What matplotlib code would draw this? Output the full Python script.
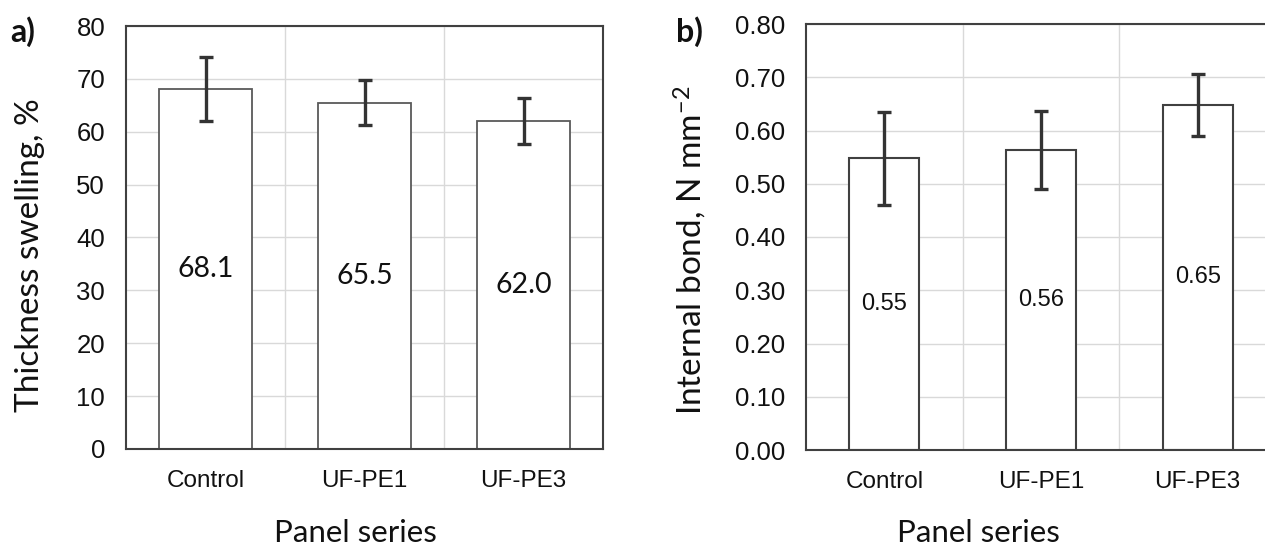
import matplotlib
matplotlib.use("Agg")
import matplotlib.pyplot as plt
import numpy as np

# ---- data ----
categories = ["Control", "UF-PE1", "UF-PE3"]
swelling = [68.1, 65.5, 62.0]
swelling_err = [6.1, 4.3, 4.4]
swelling_labels = ["68.1", "65.5", "62.0"]
bond = [0.548, 0.563, 0.648]
bond_err = [0.087, 0.073, 0.059]
bond_labels = ["0.55", "0.56", "0.65"]
yticks_a = [0, 10, 20, 30, 40, 50, 60, 70, 80]
yticks_b = [0.0, 0.1, 0.2, 0.3, 0.4, 0.5, 0.6, 0.7, 0.8]

W, H = 1265, 546
fig = plt.figure(figsize=(W / 100, H / 100), dpi=100)
plt.rcParams['mathtext.default'] = 'regular'

def px_axes(l, r, t, b):
    return [l / W, (H - b) / H, (r - l) / W, (b - t) / H]

ax_a = fig.add_axes(px_axes(126, 603, 26, 449))
ax_b = fig.add_axes(px_axes(806, 1276, 24, 450))

SANS = "Liberation Sans"
CAL = "Lato"
x = np.arange(len(categories))

def style(ax, yticks, ylim, fmt):
    ax.set_xlim(-0.5, len(categories) - 0.5)
    ax.set_ylim(*ylim)
    ax.set_yticks(yticks)
    ax.set_yticklabels([fmt(v) for v in yticks], fontfamily=SANS, fontsize=18.5, color="#111111")
    ax.set_xticks(x)
    ax.set_xticklabels(categories, fontfamily=SANS, fontsize=17.5, color="#111111")
    ax.tick_params(axis="y", length=0, pad=15)
    ax.tick_params(axis="x", length=0, pad=15)
    ax.set_xticks([0.5, 1.5], minor=True)
    ax.tick_params(which="minor", length=0)
    ax.grid(True, axis="y", which="major", color="#d9d9d9", lw=1.0)
    ax.grid(True, axis="x", which="minor", color="#d9d9d9", lw=1.0)
    ax.set_axisbelow(True)
    for s in ax.spines.values():
        s.set_color("#404040")
        s.set_linewidth(1.5)

style(ax_a, yticks_a, (0, 80), lambda v: f"{v:d}")
style(ax_b, yticks_b, (0, 0.8), lambda v: f"{v:.2f}")

ax_a.bar(x, swelling, width=0.585, color="white", edgecolor="#595959", linewidth=1.3, zorder=2)
ax_a.errorbar(x, swelling, yerr=swelling_err, fmt="none", ecolor="#333333",
              elinewidth=2.4, capsize=5, capthick=2.4, zorder=3)
for xi, v, lab in zip(x, swelling, swelling_labels):
    ax_a.text(xi, v / 2, lab, ha="center", va="center", fontfamily=CAL, fontsize=20.5, color="#111111", zorder=4)

ax_b.bar(x, bond, width=0.446, color="white", edgecolor="#404040", linewidth=1.5, zorder=2)
ax_b.errorbar(x, bond, yerr=bond_err, fmt="none", ecolor="#333333",
              elinewidth=2.4, capsize=5, capthick=2.4, zorder=3)
for xi, v, lab in zip(x, bond, bond_labels):
    ax_b.text(xi, v / 2, lab, ha="center", va="center", fontfamily=SANS, fontsize=17, color="#111111", zorder=4)

def ftext(px, py, s, **kw):
    fig.text(px / W, 1 - py / H, s, **kw)

ftext(30, 255, "Thickness swelling, %", rotation=90, ha="center", va="center",
      fontfamily=CAL, fontsize=24, color="#111111")
ftext(690, 250, "Internal bond, N mm$^{-2}$", rotation=90, ha="center", va="center",
      fontfamily=CAL, fontsize=24, color="#111111")
ftext(355, 533, "Panel series", ha="center", va="center", fontfamily=CAL, fontsize=22.5, color="#111111")
ftext(978, 533, "Panel series", ha="center", va="center", fontfamily=CAL, fontsize=22.5, color="#111111")
ftext(23, 32, "a)", ha="center", va="center", fontfamily=CAL, fontsize=23, fontweight="bold", color="#111111")
ftext(689, 32, "b)", ha="center", va="center", fontfamily=CAL, fontsize=23, fontweight="bold", color="#111111")

fig.savefig("out.png", dpi=100)
